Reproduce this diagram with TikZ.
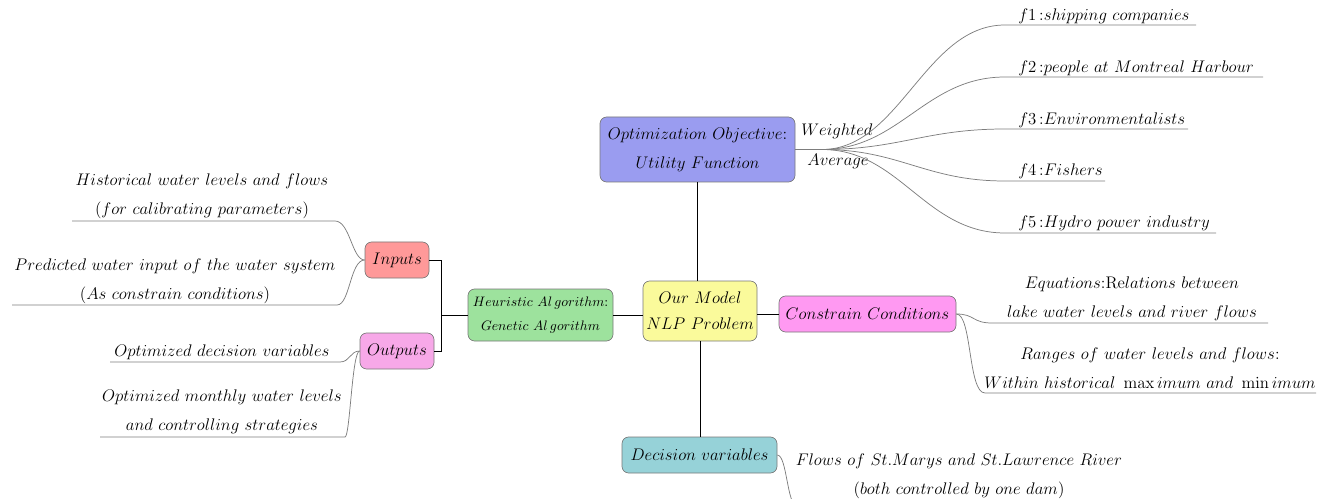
\RequirePackage{fix-cm}
\documentclass[tikz,border=0pt]{standalone}
\begin{document}
\definecolor{objblue}{RGB}{154,156,240}
\definecolor{modyel}{RGB}{250,250,155}
\definecolor{heugreen}{RGB}{157,226,157}
\definecolor{conmag}{RGB}{255,153,242}
\definecolor{decteal}{RGB}{150,210,216}
\definecolor{inred}{RGB}{255,153,153}
\definecolor{outpink}{RGB}{247,168,232}
\definecolor{bordergray}{RGB}{120,120,120}
\definecolor{branchgray}{RGB}{125,125,125}
\newcommand\mfont{\fontsize{12.6}{21.75}\selectfont}
\begin{tikzpicture}[x=0.75pt,y=-0.75pt,
  box/.style={draw=bordergray, rounded corners=5pt, line width=0.5pt, inner sep=0pt, align=center, font=\mfont},
  leaf/.style={align=center, font=\mfont, inner sep=0pt},
  conn/.style={draw=black, line width=0.7pt},
  branch/.style={draw=branchgray, line width=0.55pt}]
\clip (0,0) rectangle (1325,499);
\useasboundingbox (0,0) rectangle (1325,499);

% main boxes
\node[box, fill=objblue, minimum width=146.25pt, minimum height=48.75pt] (obj) at (697.5,149.5)
  {$Optimization\ Objective$:\\$Utility\ Function$};
\node[box, fill=modyel, minimum width=85.5pt, minimum height=45pt, font={\fontsize{12.6}{19.5}\selectfont}] (model) at (700,311)
  {$Our\ Model$\\$NLP\ Problem$};
\node[box, fill=heugreen, minimum width=108.75pt, minimum height=39pt, font={\fontsize{10.3}{18}\selectfont}] (heu) at (540.5,315)
  {$Heuristic\ Al\,gorithm$:\\$Genetic\ Al\,gorithm$};
\node[box, fill=conmag, minimum width=132.75pt, minimum height=27pt] (con) at (867.5,314)
  {$Constrain\ Conditions$};
\node[box, fill=decteal, minimum width=116.25pt, minimum height=27pt] (dec) at (699.5,455)
  {$Decision\ variables$};
\node[box, fill=inred, minimum width=48pt, minimum height=27pt] (in) at (397,260)
  {$Inputs$};
\node[box, fill=outpink, minimum width=55.5pt, minimum height=27pt] (out) at (397,351)
  {$Outputs$};

% black connectors
\draw[conn] (obj.south) -- (obj.south |- model.north);
\draw[conn] (heu.east) -- (heu.east -| model.west);
\draw[conn] (con.west -| model.east) -- (con.west);
\draw[conn] (model.south) -- (model.south |- dec.north);
\coordinate (junc) at (441,315);
\draw[conn] (heu.west) -- (junc);
\draw[conn] (in.east) -| (junc);
\draw[conn] (out.east) -| (junc);

% objective leaves
\node[leaf] (wt) at (837,131) {$Weighted$};
\node[leaf] (av) at (838,161) {$Average$};
\node[leaf, anchor=west] (f1) at (1018,16) {$f1$\,:$shipping\ companies$};
\node[leaf, anchor=west] (f2) at (1018,68) {$f2$\,:$people\ at\ Montreal\ Harbour$};
\node[leaf, anchor=west] (f3) at (1018,120) {$f3$\,:$Environmentalists$};
\node[leaf, anchor=west] (f4) at (1018,171) {$f4$\,:$Fishers$};
\node[leaf, anchor=west] (f5) at (1018,223) {$f5$\,:$Hydro\ power\ industry$};
\coordinate (fan) at (822,149.5);
\draw[branch] (obj.east) -- (fan);
\draw[branch] (fan) .. controls (900,149.5) and (925,25) .. (1005,25) -- (1196,25);
\draw[branch] (fan) .. controls (900,149.5) and (925,77) .. (1005,77) -- (1263,77);
\draw[branch] (fan) .. controls (900,149.5) and (925,129) .. (1005,129) -- (1188,129);
\draw[branch] (fan) .. controls (900,149.5) and (925,181) .. (1005,181) -- (1105,181);
\draw[branch] (fan) .. controls (900,149.5) and (925,233) .. (1005,233) -- (1216,233);

% inputs leaves
\node[leaf] (hist) at (202,196) {$Historical\ water\ levels\ and\ flows$\\$(for\ calibrating\ parameters)$};
\node[leaf] (pred) at (175,281) {$Predicted\ water\ input\ of\ the\ water\ system$\\$(As\ constrain\ conditions)$};
\coordinate (histA) at (335,221);
\coordinate (histB) at (72,221);
\coordinate (predA) at (337,305);
\coordinate (predB) at (12,305);
\draw[branch] (in.west) .. controls (352,260) and (350,221) .. (histA) -- (histB);
\draw[branch] (in.west) .. controls (350,260) and (350,305) .. (predA) -- (predB);

% outputs leaves
\node[leaf] (optd) at (222,352) {$Optimized\ decision\ variables$};
\node[leaf] (optm) at (222,412) {$Optimized\ monthly\ water\ levels$\\$and\ controlling\ strategies$};
\coordinate (optdA) at (340,362);
\coordinate (optdB) at (110,362);
\coordinate (optmA) at (345,437);
\coordinate (optmB) at (100,437);
\draw[branch] (out.west) .. controls (350,351) and (350,362) .. (optdA) -- (optdB);
\draw[branch] (out.west) .. controls (352,351) and (350,437) .. (optmA) -- (optmB);

% constraint leaves
\node[leaf] (eq) at (1132,298.5) {$Equations$:Re$lations\ between$\\$lake\ water\ levels\ and\ river\ flows$};
\node[leaf] (rng) at (1150,368) {$Ranges\ of\ water\ levels\ and\ flows$:\\$Within\ historical\ \max imum\ and\ \min imum$};
\coordinate (eqA) at (992,323);
\coordinate (eqB) at (1268,323);
\coordinate (rngA) at (985,393);
\coordinate (rngB) at (1316,393);
\draw[branch] (con.east) .. controls (975,314) and (972,323) .. (eqA) -- (eqB);
\draw[branch] (con.east) .. controls (972,314) and (968,393) .. (rngA) -- (rngB);

% decision leaves
\node[leaf] (flow) at (959,476) {$Flows\ of\ St.Marys\ and\ St.Lawrence\ River$\\$(both\ controlled\ by\ one\ dam)$};
\coordinate (flowA) at (797,506);
\coordinate (flowB) at (1125,506);
\draw[branch] (dec.east) .. controls (787,455) and (787,506) .. (flowA) -- (flowB);
\end{tikzpicture}
\end{document}
